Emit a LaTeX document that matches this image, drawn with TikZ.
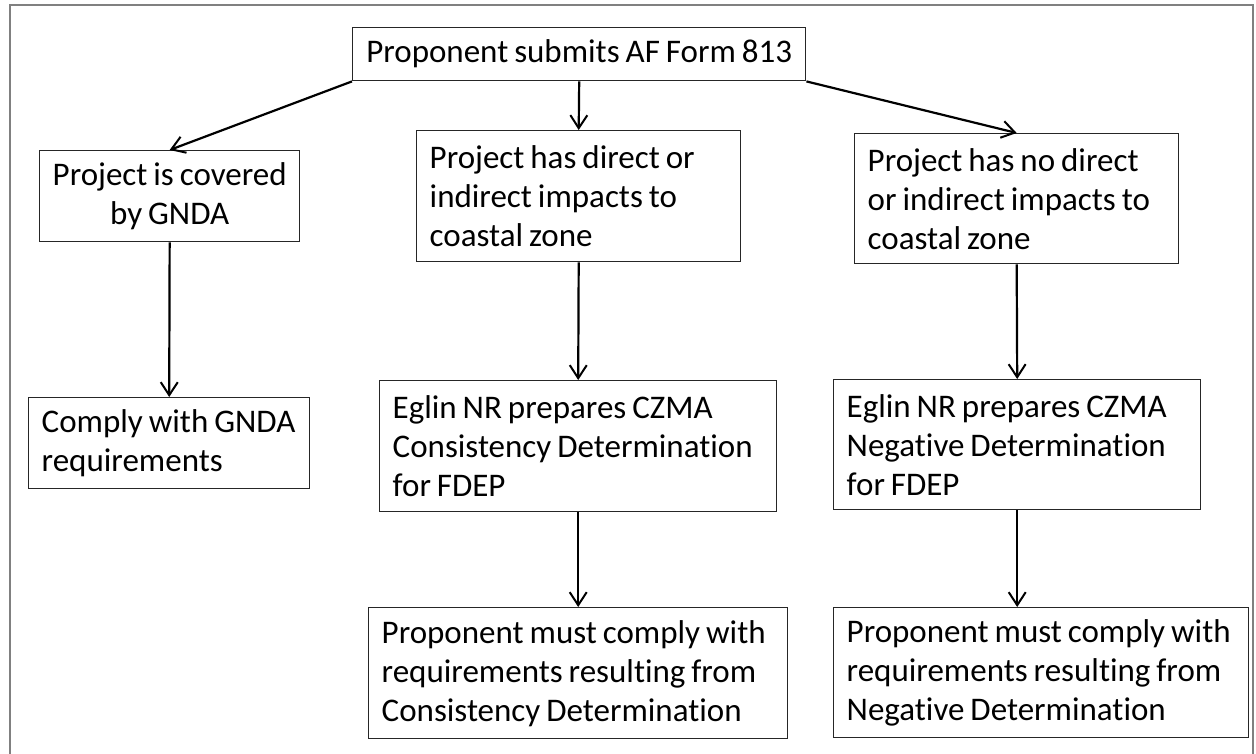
\documentclass[tikz,border=0pt]{standalone}
\usepackage{fontspec}
\setmainfont{Carlito}[WordSpace=0.8, Ligatures=NoCommon]
\usetikzlibrary{arrows.meta}

\begin{document}
\begin{tikzpicture}[x=1pt, y=-1pt,
    box/.style={draw=black!85, line width=1.4pt, rectangle, anchor=north west,
        inner xsep=13pt, inner ysep=0pt, font=\fontsize{33}{39}\selectfont},
    flow/.style={line width=2.2pt, -{Straight Barb[length=13pt, width=17pt, line width=2pt]}}]

        \useasboundingbox (0,0) rectangle (1256,754);

        % outer frame
        \draw[black!50, line width=2.5pt] (10,5) rectangle (1253,780);

        % top
        \node[box, minimum width=453pt, minimum height=53pt, align=center] (submit) at (352,27)
            {Proponent submits AF Form 813};

        % first row
        \node[box, minimum width=259pt, minimum height=91pt, align=center] (gnda) at (39,150)
            {Project is covered\\by GNDA};
        \node[box, minimum height=131pt, text width=298pt, align=flush left] (direct) at (416,130)
            {Project has direct or\\indirect impacts to\\coastal zone};
        \node[box, minimum height=130pt, text width=298pt, align=flush left] (nodirect) at (854,133)
            {Project has no direct\\or indirect impacts to\\coastal zone};

        % second row
        \node[box, minimum height=91pt, text width=255pt, align=flush left] (complygnda) at (28,397)
            {Comply with GNDA\\requirements};
        \node[box, minimum height=131pt, text width=371pt, align=flush left] (eglincd) at (379,380)
            {Eglin NR prepares CZMA\\Consistency Determination\\for FDEP};
        \node[box, minimum height=130pt, text width=341pt, align=flush left] (eglinnd) at (833,379)
            {Eglin NR prepares CZMA\\Negative Determination\\for FDEP};

        % third row
        \node[box, minimum height=131pt, text width=393pt, align=flush left] (resultcd) at (368,607)
            {Proponent must comply with\\requirements resulting from\\Consistency Determination};
        \node[box, minimum height=130pt, text width=389pt, align=flush left] (resultnd) at (833,607)
            {Proponent must comply with\\requirements resulting from\\Negative Determination};

        % arrows
        \draw[flow] (submit.south west) -- (gnda.north);
        \draw[flow] (submit.south) -- (direct.north);
        \draw[flow] (submit.south east) -- (nodirect.north);

        \draw[flow] (gnda.south) -- (complygnda.north);
        \draw[flow] (direct.south) -- (eglincd.north);
        \draw[flow] (nodirect.south) -- (eglinnd.north);

        \draw[flow] (eglincd.south) -- (resultcd.north);
        \draw[flow] (eglinnd.south) -- (eglinnd.south |- resultnd.north);

    \end{tikzpicture}
\end{document}
